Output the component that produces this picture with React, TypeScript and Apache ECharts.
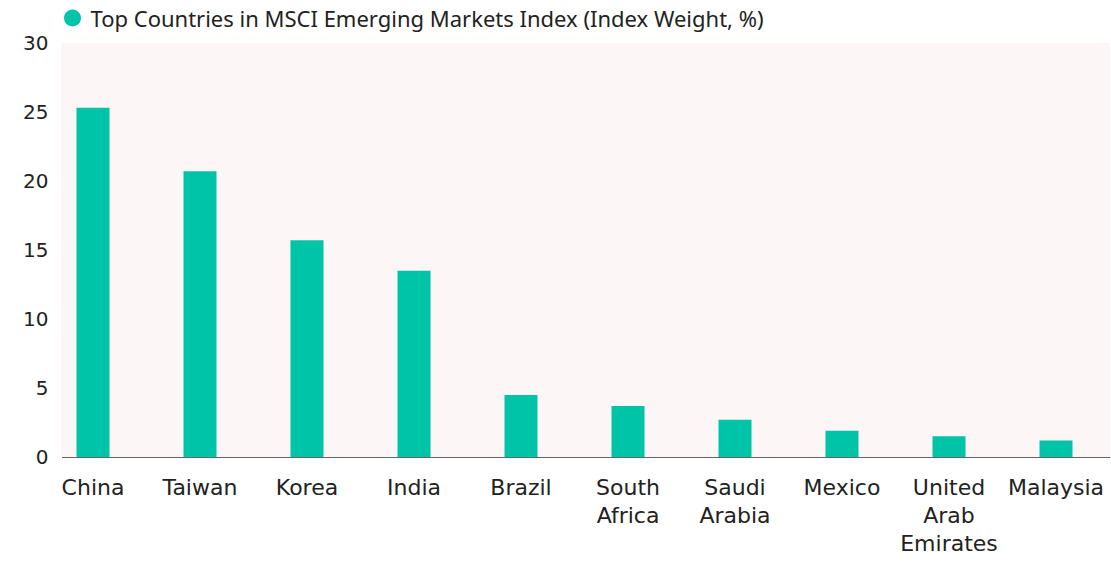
import React, { useEffect, useRef } from "react";
import * as echarts from "echarts";

const categories = ["China", "Taiwan", "Korea", "India", "Brazil", "South\nAfrica", "Saudi\nArabia", "Mexico", "United\nArab\nEmirates", "Malaysia"];
const weights = [25.3, 20.7, 15.7, 13.5, 4.5, 3.7, 2.7, 1.9, 1.5, 1.2];
const seriesName = "Top Countries in MSCI Emerging Markets Index (Index Weight, %)";
const yTicks = { min: 0, max: 30, interval: 5 };

const FONT = "DejaVu Sans";
const TITLE_FONT = "Noto Sans";
const TEAL = "#00C4A8";

export default function App() {
  const ref = useRef<HTMLDivElement>(null);
  useEffect(() => {
    if (!ref.current) return;
    const chart = echarts.init(ref.current, null, { renderer: "svg" });
    chart.setOption({
      animation: false,
      textStyle: { fontFamily: FONT },
      legend: {
        left: 59,
        top: 2,
        icon: "circle",
        itemWidth: 26,
        itemHeight: 17,
        textStyle: { fontFamily: TITLE_FONT, fontSize: 22, color: "#222" },
        data: [seriesName],
      },
      graphic: [
        {
          type: "rect",
          z: -10,
          shape: { x: 61, y: 43, width: 1049, height: 414 },
          style: { fill: "#FDF6F6" },
          silent: true,
        },
        {
          type: "line",
          z: 10,
          shape: { x1: 62, y1: 457.5, x2: 1110, y2: 457.5 },
          style: { stroke: "#666", lineWidth: 1.2 },
          silent: true,
        },
      ],
      grid: { left: 39.5, top: 43, width: 1070, height: 414, containLabel: false },
      xAxis: {
        type: "category",
        data: categories,
        axisLine: { show: false },
        axisTick: { show: false },
        axisLabel: {
          interval: 0,
          fontFamily: FONT,
          fontSize: 22,
          color: "#222",
          lineHeight: 28,
          margin: 16,
        },
      },
      yAxis: {
        type: "value",
        min: yTicks.min,
        max: yTicks.max,
        interval: yTicks.interval,
        offset: -9,
        splitLine: { show: false },
        axisLine: { show: false },
        axisTick: { show: false },
        axisLabel: { fontFamily: FONT, fontSize: 20, color: "#222", margin: 0 },
      },
      series: [
        {
          name: seriesName,
          type: "bar",
          data: weights,
          barWidth: 33,
          itemStyle: { color: TEAL },
        },
      ],
    });
    return () => chart.dispose();
  }, []);
  return <div ref={ref} style={{ position: "absolute", left: 0, top: 0, width: 1111, height: 564 }} />;
}
